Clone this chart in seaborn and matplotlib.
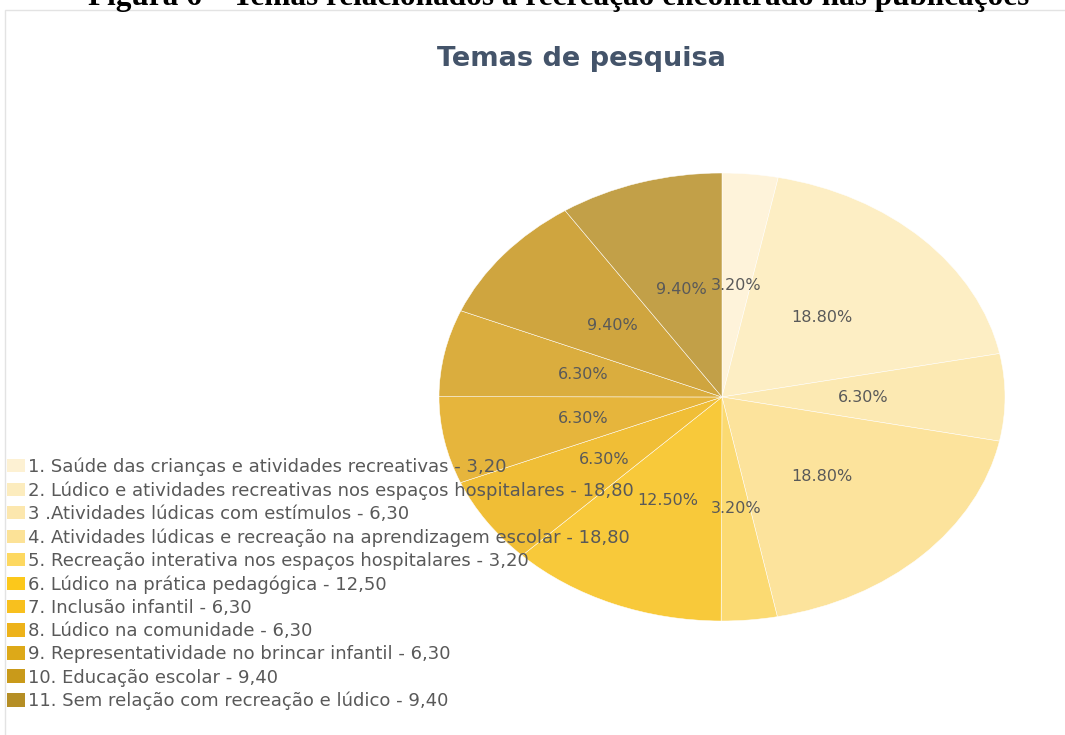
import seaborn as sns
import matplotlib.pyplot as plt
from matplotlib.patches import Patch, Rectangle

sns.set_theme(style='white')
plt.rcParams['font.family'] = ['DejaVu Sans']

# dados
temas = ['1. Saúde das crianças e atividades recreativas - 3,20',
         '2. Lúdico e atividades recreativas nos espaços hospitalares - 18,80',
         '3 .Atividades lúdicas com estímulos - 6,30',
         '4. Atividades lúdicas e recreação na aprendizagem escolar - 18,80',
         '5. Recreação interativa nos espaços hospitalares - 3,20',
         '6. Lúdico na prática pedagógica - 12,50',
         '7. Inclusão infantil - 6,30',
         '8. Lúdico na comunidade - 6,30',
         '9. Representatividade no brincar infantil - 6,30',
         '10. Educação escolar - 9,40',
         '11. Sem relação com recreação e lúdico - 9,40']
valores = [3.2, 18.8, 6.3, 18.8, 3.2, 12.5, 6.3, 6.3, 6.3, 9.4, 9.4]
rotulos = ['3.20%', '18.80%', '6.30%', '18.80%', '3.20%', '12.50%',
           '6.30%', '6.30%', '6.30%', '9.40%', '9.40%']

cores = sns.color_palette(['#FEF3DA', '#FDEEC4', '#FCE9B2', '#FCE39C', '#FBDA72',
                           '#F8C93A', '#F0BE36', '#E6B53C', '#DAAD3E', '#CFA53F',
                           '#C2A048'])
cores_leg = sns.color_palette(['#FDF1D3', '#FCECBE', '#FCE7AE', '#FCE297', '#FDD860',
                               '#FCC81B', '#F8C01E', '#EDB21A', '#DDA918', '#C99A1A',
                               '#B58E25'])

fig = plt.figure(figsize=(10.65, 7.35), dpi=100)

# moldura do gráfico
fig.patches.append(Rectangle((5 / 1065, -0.01), 1.1, 1 - 10 / 735 + 0.01,
                             transform=fig.transFigure, fill=False,
                             edgecolor='#E3E3E3', linewidth=1))

# legenda da figura cortada no topo, como no original
fig.text(0.525, 1 - 5 / 735, 'Figura 6 – Temas relacionados à recreação encontrado nas publicações',
         ha='center', va='baseline', fontsize=22.5, fontweight='bold',
         family='Liberation Serif', color='black')
fig.text(0.546, 1 - 66 / 735, 'Temas de pesquisa', ha='center', va='baseline',
         fontsize=19.5, fontweight='bold', color='#44546A')

ax = fig.add_axes([439 / 1065, 1 - 621 / 735, 566 / 1065, 448 / 735])
ax.pie(valores, labels=rotulos, labeldistance=0.5, colors=cores,
       startangle=90, counterclock=False,
       wedgeprops=dict(edgecolor='#FFFFFF', linewidth=0.35),
       textprops=dict(color='#595959', fontsize=11.5, ha='center', va='center'))
ax.set_aspect('auto')
ax.set_xlim(-1, 1)
ax.set_ylim(-1, 1)

handles = [Patch(facecolor=c, edgecolor='none') for c in cores_leg]
leg = fig.legend(handles, temas, loc='upper left',
                 bbox_to_anchor=(2 / 1065, 1 - 452 / 735),
                 frameon=False, fontsize=13, labelspacing=0.29,
                 handlelength=1.0, handleheight=0.78, handletextpad=0.12,
                 borderaxespad=0, borderpad=0.3)
for t in leg.get_texts():
    t.set_color('#595959')
leg.set_zorder(10)

fig.savefig('out.png', dpi=100)
